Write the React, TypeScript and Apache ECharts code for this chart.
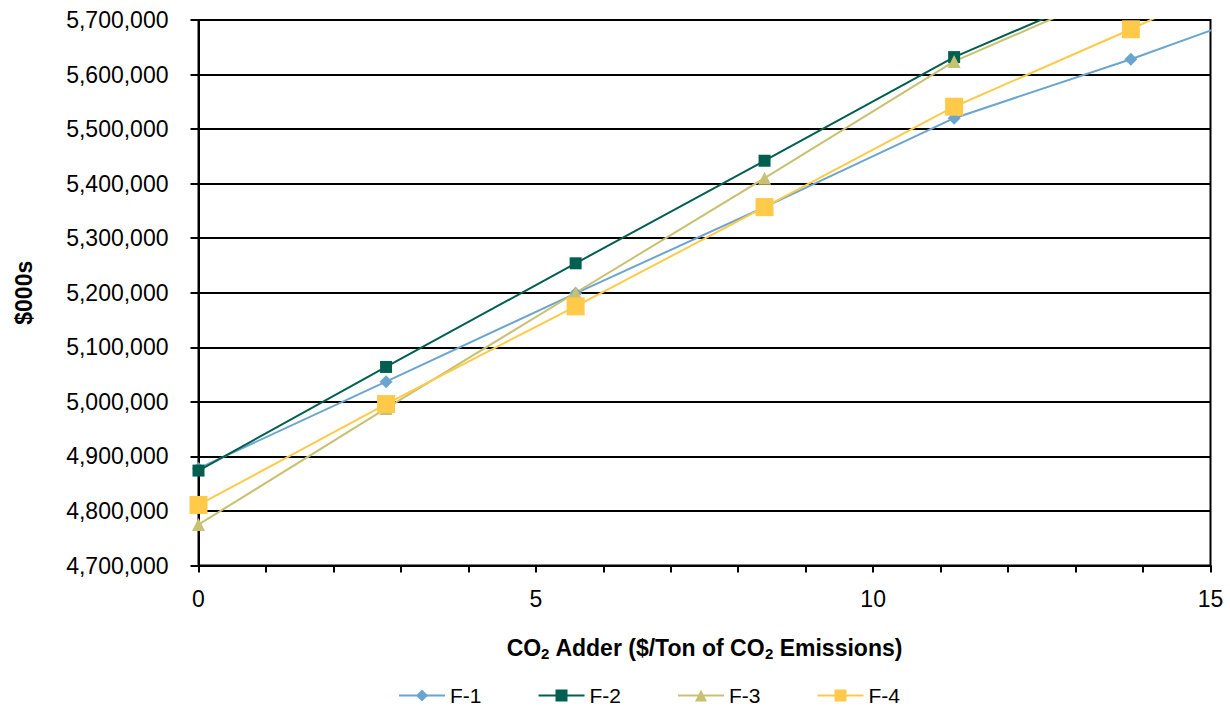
import React, { useEffect, useRef } from "react";
import * as echarts from "echarts";

// CO2 adder ($/ton) – last value lies beyond the axis range (line runs off the plot)
const xValues = [0, 2.78, 5.59, 8.39, 11.2, 13.82, 16.6];
const f1 = [4878000, 5037000, 5199000, 5357000, 5520000, 5628000, 5752000];
const f2 = [4874000, 5064000, 5254000, 5442000, 5632000, 5771000, 5900000];
const f3 = [4775000, 4988000, 5200000, 5410000, 5624000, 5765000, 5900000];
const f4 = [4811000, 4996000, 5175000, 5357000, 5541000, 5683000, 5845000];
const seriesNames = ["F-1", "F-2", "F-3", "F-4"];
const xTicks = { min: 0, max: 15, interval: 5 };
const yTicks = { min: 4700000, max: 5700000, interval: 100000 };

const FONT = "'Liberation Sans', Arial, sans-serif";

export default function App() {
  const ref = useRef<HTMLDivElement>(null);
  useEffect(() => {
    if (!ref.current) return;
    const chart = echarts.init(ref.current, null, { renderer: "svg" });
    const colors = ["#6BA5CF", "#005F4F", "#C9C172", "#FFCA4A"];
    const symbols = ["diamond", "rect", "triangle", "rect"];
    const sizes = [13, 12, 13, 18];
    const all = [f1, f2, f3, f4];
    chart.setOption({
      animation: false,
      backgroundColor: "#fff",
      textStyle: { fontFamily: FONT, color: "#000" },
      grid: {
        left: 198.5,
        right: 19.5,
        top: 20,
        bottom: 142.5,
        show: true,
        borderColor: "#000",
        borderWidth: 2,
        backgroundColor: "transparent",
      },
      legend: {
        left: 398,
        top: 685,
        padding: 0,
        itemWidth: 46,
        itemHeight: 15,
        itemGap: 56,
        textStyle: { fontFamily: FONT, fontSize: 21, lineHeight: 21, color: "#000" },
        data: seriesNames,
      },
      xAxis: {
        type: "value",
        min: xTicks.min,
        max: xTicks.max,
        interval: xTicks.interval,
        axisLine: { show: true, lineStyle: { color: "#000", width: 2 } },
        axisTick: { show: true, inside: false, length: 7, lineStyle: { color: "#000", width: 2 } },
        minorTick: { show: true, splitNumber: 5, length: 7, lineStyle: { color: "#000", width: 2 } },
        splitLine: { show: false },
        axisLabel: { fontFamily: FONT, fontSize: 23, color: "#000", margin: 22 },
        name: "{n|CO}{s|2}{n| Adder ($/Ton of CO}{s|2}{n| Emissions)}",
        nameLocation: "middle",
        nameGap: 70,
        nameTextStyle: {
          rich: {
            n: { fontFamily: FONT, fontSize: 23, fontWeight: "bold", color: "#000" },
            s: { fontFamily: FONT, fontSize: 15, fontWeight: "bold", color: "#000", padding: [10, 0, 0, 0] },
          },
        },
      },
      yAxis: {
        type: "value",
        min: yTicks.min,
        max: yTicks.max,
        interval: yTicks.interval,
        axisLine: { show: true, lineStyle: { color: "#000", width: 2 } },
        axisTick: { show: true, inside: false, length: 8, lineStyle: { color: "#000", width: 2 } },
        splitLine: { show: true, lineStyle: { color: "#000", width: 2 } },
        axisLabel: {
          fontFamily: FONT,
          fontSize: 23,
          color: "#000",
          margin: 30,
          formatter: (v: number) => v.toLocaleString("en-US"),
        },
        name: "$000s",
        nameLocation: "middle",
        nameRotate: 90,
        nameGap: 163,
        nameTextStyle: { fontFamily: FONT, fontSize: 23, fontWeight: "bold", color: "#000" },
      },
      series: all.map((vals, i) => ({
        name: seriesNames[i],
        type: "line",
        data: vals.map((v, j) => [xValues[j], v]),
        symbol: symbols[i],
        symbolSize: sizes[i],
        showSymbol: true,
        clip: true,
        color: colors[i],
        lineStyle: { color: colors[i], width: 2 },
        itemStyle: { color: colors[i], borderWidth: 0 },
      })),
    });
    return () => chart.dispose();
  }, []);
  return (
    <div
      ref={ref}
      style={{ position: "fixed", left: 0, top: 0, width: 1230, height: 708 }}
    />
  );
}
